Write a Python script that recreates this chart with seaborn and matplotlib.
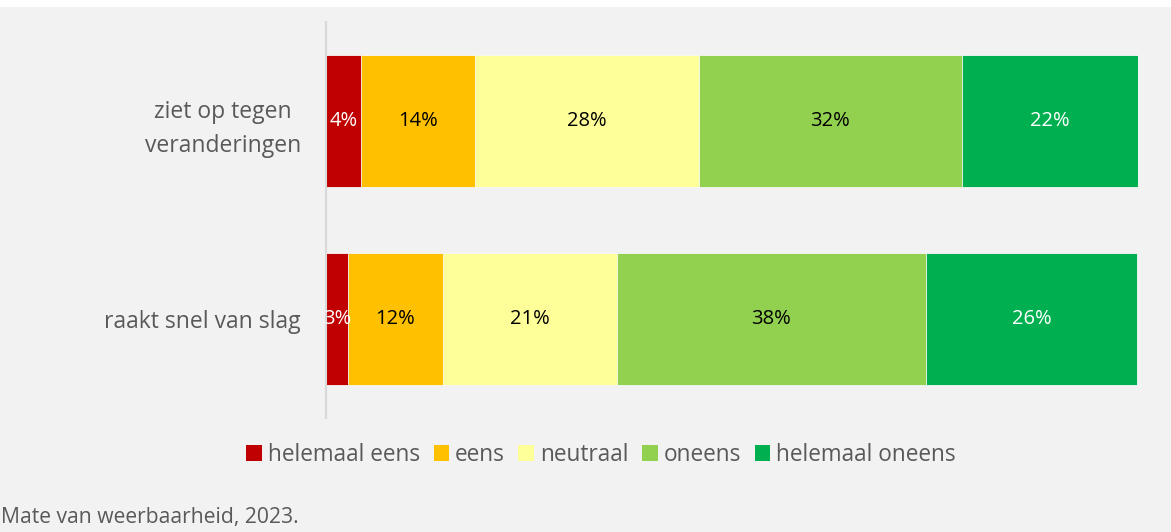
import numpy as np
import pandas as pd
import matplotlib.pyplot as plt
from matplotlib.patches import Rectangle
import seaborn as sns

# data
items = ["ziet op tegen\nveranderingen", "raakt snel van slag"]
answers = ["helemaal eens", "eens", "neutraal", "oneens", "helemaal oneens"]
ziet_op_tegen = [4.3, 14.0, 27.6, 32.4, 21.7]
raakt_van_slag = [2.7, 11.7, 21.4, 38.1, 26.0]

colors = ["#c00000", "#ffc000", "#ffff99", "#92d050", "#00b050"]
text_colors = ["white", "black", "black", "black", "white"]

vals = np.array([ziet_op_tegen, raakt_van_slag])
cum = np.cumsum(vals, axis=1)
df = pd.DataFrame(cum, columns=answers)
df["item"] = items

sns.set_theme(style="white")
plt.rcParams["font.family"] = ["Open Sans", "DejaVu Sans"]
bg = "#f2f2f2"
grey = "#595959"

fig = plt.figure(figsize=(11.71, 5.32), dpi=100, facecolor="white")
fig.patches.append(Rectangle((0, 0), 1, 1 - 7 / 532, transform=fig.transFigure,
                             facecolor=bg, edgecolor="none", zorder=-10))
ax = fig.add_axes([326 / 1171, 1 - 418 / 532, (1138 - 326) / 1171, 396 / 532])
ax.set_facecolor(bg)

# stacked bars: draw cumulative totals, widest first
for i in range(len(answers) - 1, -1, -1):
    sns.barplot(data=df, x=answers[i], y="item", order=items, color=colors[i],
                width=0.667, saturation=1, edgecolor="#f7f7f7", linewidth=0.6,
                ax=ax)

for r in range(len(items)):
    for i in range(len(answers)):
        mid = cum[r, i] - vals[r, i] / 2
        ax.text(mid, r, f"{vals[r, i]:.0f}%", ha="center", va="center",
                fontsize=14.5, color=text_colors[i])

ax.set_xlim(0, 100)
ax.set_ylim(1.5, -0.5)
ax.set_xlabel("")
ax.set_ylabel("")
ax.set_xticks([])
ax.tick_params(axis="y", length=0, pad=18, labelsize=16.5, labelcolor=grey)
for lab in ax.get_yticklabels():
    lab.set_multialignment("center")
    lab.set_linespacing(1.55)
for s in ["top", "right", "bottom"]:
    ax.spines[s].set_visible(False)
ax.spines["left"].set_color("#d9d9d9")
ax.spines["left"].set_linewidth(1.5)

handles = [Rectangle((0, 0), 1, 1, facecolor=c, edgecolor="none") for c in colors]
fig.legend(handles, answers, loc="center", bbox_to_anchor=(601 / 1171, 1 - 455 / 532),
           ncol=5, frameon=False, fontsize=16.3, labelcolor=grey,
           handlelength=0.7, handleheight=0.7, handletextpad=0.25,
           columnspacing=0.6, borderpad=0)

fig.text(1 / 1171, 1 - 518 / 532, "Mate van weerbaarheid, 2023.", ha="left",
         va="center", fontsize=15.2, color=grey)

fig.savefig("out.png", dpi=100, facecolor=fig.get_facecolor())
